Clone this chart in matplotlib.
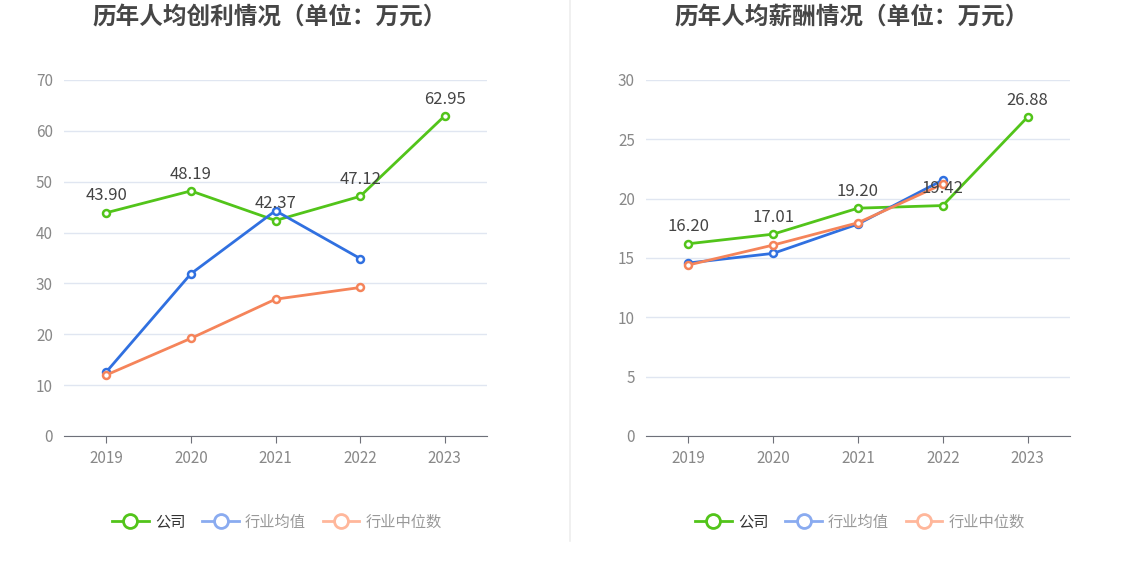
import matplotlib
matplotlib.use("Agg")
import matplotlib.pyplot as plt
from matplotlib.lines import Line2D

plt.rcParams['font.family'] = ['Noto Sans CJK SC', 'DejaVu Sans']

years = ['2019', '2020', '2021', '2022', '2023']

# Left chart: profit per capita
profit_company = [43.90, 48.19, 42.37, 47.12, 62.95]
profit_avg = [12.6, 31.9, 44.3, 34.9]
profit_median = [12.0, 19.2, 26.9, 29.2]

# Right chart: salary per capita
salary_company = [16.20, 17.01, 19.20, 19.42, 26.88]
salary_avg = [14.58, 15.39, 17.86, 21.57]
salary_median = [14.41, 16.09, 17.97, 21.23]

titles = ['历年人均创利情况（单位：万元）', '历年人均薪酬情况（单位：万元）']
legend_labels = ['公司', '行业均值', '行业中位数']

GREEN = '#52c41a'
BLUE = '#3070e0'
ORANGE = '#f5845a'
GREEN_L = '#52c41a'
BLUE_L = '#8aabf0'
ORANGE_L = '#ffb79b'

W, H = 1134, 582
fig = plt.figure(figsize=(W / 100, H / 100), dpi=100)

def frac_rect(x0, x1, ytop, ybot):
    return [x0 / W, 1 - ybot / H, (x1 - x0) / W, (ybot - ytop) / H]

configs = [
    dict(rect=frac_rect(64, 487, 80, 436), comp=profit_company, avg=profit_avg,
         med=profit_median, ymax=70, step=10, title=titles[0], tx=270, lx=277),
    dict(rect=frac_rect(646, 1070, 80, 436), comp=salary_company, avg=salary_avg,
         med=salary_median, ymax=30, step=5, title=titles[1], tx=852, lx=860),
]

for c in configs:
    ax = fig.add_axes(c['rect'])
    x = list(range(len(years)))
    mk = dict(marker='o', markersize=5, markerfacecolor='white', markeredgewidth=1.8)
    ax.plot(x, c['comp'], color=GREEN, lw=2, markeredgecolor=GREEN, zorder=3, **mk)
    ax.plot(x[:len(c['avg'])], c['avg'], color=BLUE, lw=2, markeredgecolor=BLUE, zorder=4, **mk)
    ax.plot(x[:len(c['med'])], c['med'], color=ORANGE, lw=2, markeredgecolor=ORANGE, zorder=5, **mk)
    for xi, v in zip(x, c['comp']):
        ax.annotate(f'{v:.2f}', (xi, v), xytext=(0, 6), textcoords='offset points',
                    ha='center', va='bottom', fontsize=12, color='#444444', zorder=6)
    ax.set_xlim(-0.5, len(years) - 0.5)
    ax.set_ylim(0, c['ymax'])
    ax.set_yticks(list(range(0, c['ymax'] + 1, c['step'])))
    ax.set_xticks(x)
    ax.set_xticklabels(years)
    ax.grid(axis='y', color='#e0e6f1', lw=1)
    ax.set_axisbelow(True)
    for s in ['top', 'right', 'left']:
        ax.spines[s].set_visible(False)
    ax.spines['bottom'].set_color('#6e7079')
    ax.tick_params(axis='y', length=0, labelsize=11, labelcolor='#888888', pad=8)
    ax.tick_params(axis='x', length=5, color='#6e7079', labelsize=11, labelcolor='#888888', pad=5)
    fig.text(c['tx'] / W, 1 - 18 / H, c['title'], ha='center', va='center',
             fontsize=17, fontweight='bold', color='#464646')
    handles = [
        Line2D([], [], color=GREEN_L, lw=2, marker='o', markersize=10, markerfacecolor='white',
               markeredgewidth=2, markeredgecolor=GREEN_L),
        Line2D([], [], color=BLUE_L, lw=2, marker='o', markersize=10, markerfacecolor='white',
               markeredgewidth=2, markeredgecolor=BLUE_L),
        Line2D([], [], color=ORANGE_L, lw=2, marker='o', markersize=10, markerfacecolor='white',
               markeredgewidth=2, markeredgecolor=ORANGE_L),
    ]
    leg = fig.legend(handles, legend_labels, loc='center', bbox_to_anchor=(c['lx'] / W, 1 - 522 / H),
                     ncol=3, frameon=False, fontsize=11, handlelength=2.4, handletextpad=0.4,
                     columnspacing=1.1)
    for i, t in enumerate(leg.get_texts()):
        t.set_color('#333333' if i == 0 else '#999999')

fig.add_artist(Line2D([570 / W, 570 / W], [1 - 541 / H, 1.0], color='#eeeeee', lw=1.2))

fig.savefig('out.png', dpi=100, facecolor='white')
